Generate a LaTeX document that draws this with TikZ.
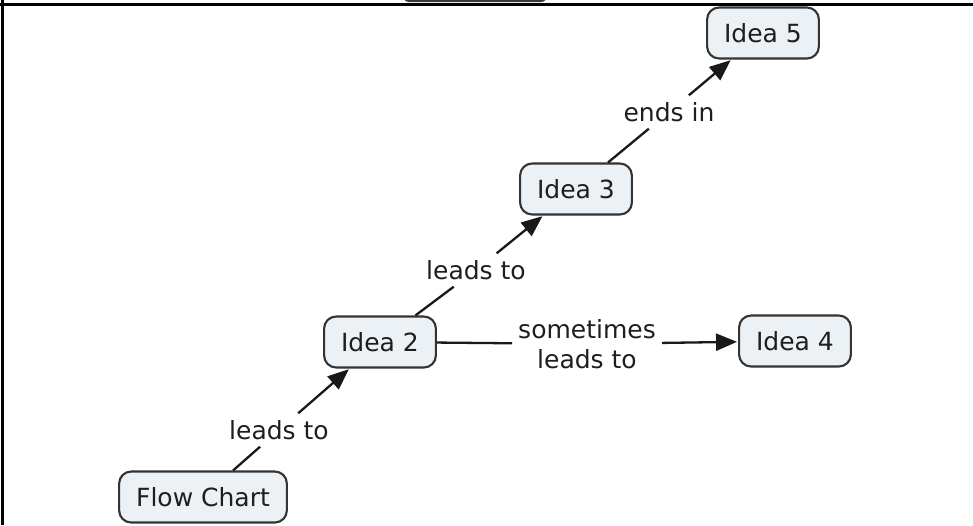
\documentclass[tikz,border=0pt]{standalone}
\usepackage{fontspec}
\setmainfont{DejaVu Sans}
\usetikzlibrary{arrows.meta}
\definecolor{conceptfill}{HTML}{EBF1F5}
\definecolor{conceptline}{HTML}{333333}
\definecolor{inkdark}{HTML}{1E1E1E}

\begin{document}
\begin{tikzpicture}[x=1pt,y=-1pt,
  concept/.style={draw=conceptline, line width=2.1pt, fill=conceptfill,
    rounded corners=12pt, inner xsep=17pt, inner ysep=0pt,
    minimum height=51pt, text=inkdark, font=\fontsize{25}{30}\selectfont},
  linklabel/.style={inner xsep=6pt, inner ysep=0pt, minimum height=33pt,
    text=inkdark, font=\fontsize{25}{30}\selectfont, align=center},
  link/.style={line width=2.3pt, draw=black!90},
  arrowlink/.style={link, -{Triangle[length=21pt,width=17pt]}, shorten >=1pt}
]
\useasboundingbox (0,0) rectangle (973,525);

% frame edges and the tab peeking in at the top
\begin{scope}
  \clip (0,0) rectangle (973,525);
  \fill[black!78, rounded corners=6pt] (403,-14) rectangle (547,2);
\end{scope}
\draw[line width=3pt] (0,4) -- (973,4);
\draw[line width=3pt] (2,0) -- (2,525);

% concepts
\node[concept] (flow) at (203,497) {Flow Chart};
\node[concept] (i2)   at (380,342) {Idea 2};
\node[concept] (i3)   at (576,189) {Idea 3};
\node[concept] (i4)   at (795,341) {Idea 4};
\node[concept] (i5)   at (763,33)  {Idea 5};

% linking phrases
\node[linklabel] (l1) at (279,430) {leads to};
\node[linklabel] (l2) at (476,270) {leads to};
\node[linklabel] (l3) at (669,112) {ends in};
\node[linklabel] (l4) at (587,344) {sometimes\\leads to};

% connectors
\draw[link] (flow) -- (l1);
\draw[arrowlink] (l1) -- (i2);
\draw[link] (i2) -- (l2);
\draw[arrowlink] (l2) -- (i3);
\draw[link] (i3) -- (l3);
\draw[arrowlink] (l3) -- (i5);
\draw[link] (i2) -- (l4);
\draw[arrowlink] (l4) -- (i4);
\end{tikzpicture}
\end{document}
